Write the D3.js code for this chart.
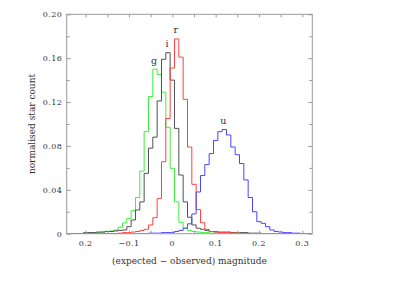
<!DOCTYPE html>
<html lang="en">
<head>
<meta charset="UTF-8"/>
<title>normalised star count</title>
<style>
  body { margin: 0; background: #fff; }
  svg text { font-family: "DejaVu Serif", serif; fill: #333; }
</style>
</head>
<body>
<svg id="chart" width="398" height="281"></svg>
<script src="https://d3js.org/d3.v7.min.js"></script>
<script>
// histogram bins: centres from -0.20 to 0.30, width 0.01
var binFirst = -0.20, binWidth = 0.01;

var gCounts = [0, 0.0005, 0.001, 0.001, 0.0015, 0.002, 0.0025, 0.0034, 0.006, 0.0098,
    0.014, 0.021, 0.033, 0.057, 0.093, 0.125, 0.150, 0.145, 0.129, 0.097,
    0.0596, 0.029, 0.0104, 0.005, 0.003, 0.002, 0.0015, 0.001, 0.001, 0.0005,
    0.0005, 0, 0, 0, 0, 0, 0, 0, 0, 0, 0, 0, 0, 0, 0, 0, 0, 0, 0, 0, 0];
var iCounts = [0.001, 0.001, 0.001, 0.0015, 0.0015, 0.002, 0.002, 0.0025, 0.003, 0.0034,
    0.0064, 0.0125, 0.0216, 0.029, 0.055, 0.078, 0.088, 0.121, 0.159, 0.165,
    0.140, 0.096, 0.0535, 0.029, 0.015, 0.008, 0.005, 0.004, 0.003, 0.002,
    0.002, 0.0015, 0.0015, 0.0015, 0.001, 0.001, 0.001, 0.001, 0.0005, 0.0005,
    0.0005, 0, 0, 0, 0, 0, 0, 0, 0, 0, 0];
var rCounts = [0, 0, 0, 0, 0, 0, 0, 0, 0.0005, 0.001,
    0.001, 0.0015, 0.002, 0.003, 0.004, 0.008, 0.0146, 0.032, 0.0656, 0.105,
    0.151, 0.1775, 0.161, 0.1225, 0.079, 0.045, 0.022, 0.010, 0.004, 0.002,
    0.0015, 0.001, 0.001, 0.001, 0.0005, 0.0005, 0, 0, 0, 0,
    0, 0, 0, 0, 0, 0, 0, 0, 0, 0, 0];
var uCounts = [0, 0, 0, 0, 0, 0, 0, 0, 0, 0,
    0, 0, 0, 0, 0, 0.0005, 0.0005, 0.0005, 0.001, 0.001,
    0.001, 0.002, 0.003, 0.005, 0.009, 0.018, 0.038, 0.053, 0.063, 0.073,
    0.085, 0.093, 0.095, 0.090, 0.079, 0.072, 0.064, 0.049, 0.033, 0.020,
    0.011, 0.0095, 0.0064, 0.0034, 0.002, 0.0015, 0.001, 0.001, 0.0005, 0.0005, 0];

var bands = ["g", "i", "r", "u"];
var bandCounts = [gCounts, iCounts, rCounts, uCounts];
var bandColours = ["#3cf03c", "#505050", "#ff4040", "#4646ff"];

var xTickValues = [-0.2, -0.1, 0, 0.1, 0.2, 0.3];
var xTickLabels = ["0.2", "\u22120.1", "0", "0.1", "0.2", "0.3"];
var yTickValues = [0, 0.04, 0.08, 0.12, 0.16, 0.20];
var yTickLabels = ["0", "0.04", "0.08", "0.12", "0.16", "0.20"];

var svg = d3.select("#chart");
var plotL = 66.7, plotR = 312.3, plotT = 14.3, plotB = 233.7;

var x = d3.scaleLinear().domain([-0.2437, 0.323]).range([plotL, plotR]);
var y = d3.scaleLinear().domain([0, 0.2]).range([plotB, plotT]);

var frameColour = "#9a9a9a";

svg.append("clipPath").attr("id", "plotclip")
    .append("rect")
    .attr("x", plotL).attr("y", plotT)
    .attr("width", plotR - plotL).attr("height", plotB - plotT);

// histograms as steps
function steps(counts) {
    var pts = [[x.domain()[0], 0]];
    counts.forEach(function (c, i) {
        pts.push([binFirst + i * binWidth - binWidth / 2, c]);
    });
    pts.push([binFirst + counts.length * binWidth - binWidth / 2, 0]);
    pts.push([x.domain()[1], 0]);
    return pts;
}

var line = d3.line()
    .x(function (d) { return x(d[0]); })
    .y(function (d) { return y(d[1]); })
    .curve(d3.curveStepAfter);

var g = svg.append("g").attr("clip-path", "url(#plotclip)");
bandCounts.forEach(function (counts, k) {
    g.append("path")
        .attr("d", line(steps(counts)))
        .attr("fill", "none")
        .attr("stroke", bandColours[k])
        .attr("stroke-width", 1);
});

// band names above each peak
bandCounts.forEach(function (counts, k) {
    var peak = d3.maxIndex(counts);
    svg.append("text")
        .attr("x", x(binFirst + peak * binWidth) - 1)
        .attr("y", y(counts[peak]) - 5.5)
        .attr("text-anchor", "middle")
        .style("font-size", "9.5px")
        .text(bands[k]);
});

// frame
svg.append("rect")
    .attr("x", plotL).attr("y", plotT)
    .attr("width", plotR - plotL).attr("height", plotB - plotT)
    .attr("fill", "none")
    .attr("stroke", frameColour)
    .attr("stroke-width", 1);

function ticks(axis, pos, values, size) {
    var a = svg.append("g")
        .attr("transform", pos)
        .call(axis.tickValues(values).tickSizeInner(size).tickSizeOuter(0).tickFormat(""));
    a.select(".domain").remove();
    a.selectAll("line").attr("stroke", frameColour);
    return a;
}

var xMinor = d3.range(-0.2, 0.31, 0.05);
ticks(d3.axisBottom(x), "translate(0," + plotB + ")", xMinor, -3);
ticks(d3.axisTop(x), "translate(0," + plotT + ")", xMinor, -3);
var yMinor = d3.range(0.02, 0.2, 0.04);
ticks(d3.axisLeft(y), "translate(" + plotL + ",0)", yTickValues, -4);
ticks(d3.axisLeft(y), "translate(" + plotL + ",0)", yMinor, -3);
ticks(d3.axisRight(y), "translate(" + plotR + ",0)", yTickValues, -4);
ticks(d3.axisRight(y), "translate(" + plotR + ",0)", yMinor, -3);

// tick labels
svg.append("g").selectAll("text")
    .data(xTickValues)
    .enter().append("text")
    .attr("x", function (d) { return x(d); })
    .attr("y", plotB + 12)
    .attr("text-anchor", "middle")
    .style("font-size", "8px")
    .style("letter-spacing", "0.4px")
    .text(function (d, i) { return xTickLabels[i]; });

svg.append("g").selectAll("text")
    .data(yTickValues)
    .enter().append("text")
    .attr("x", plotL - 4.5)
    .attr("y", function (d) { return y(d) + 3; })
    .attr("text-anchor", "end")
    .style("font-size", "8px")
    .style("letter-spacing", "0.4px")
    .text(function (d, i) { return yTickLabels[i]; });

// axis titles
svg.append("text")
    .attr("x", (plotL + plotR) / 2)
    .attr("y", 264)
    .attr("text-anchor", "middle")
    .style("font-size", "9px")
    .text("(expected \u2212 observed) magnitude");

svg.append("text")
    .attr("transform", "translate(35," + (plotT + plotB) / 2 + ") rotate(-90)")
    .attr("text-anchor", "middle")
    .style("font-size", "9px")
    .text("normalised star count");
</script>
</body>
</html>
